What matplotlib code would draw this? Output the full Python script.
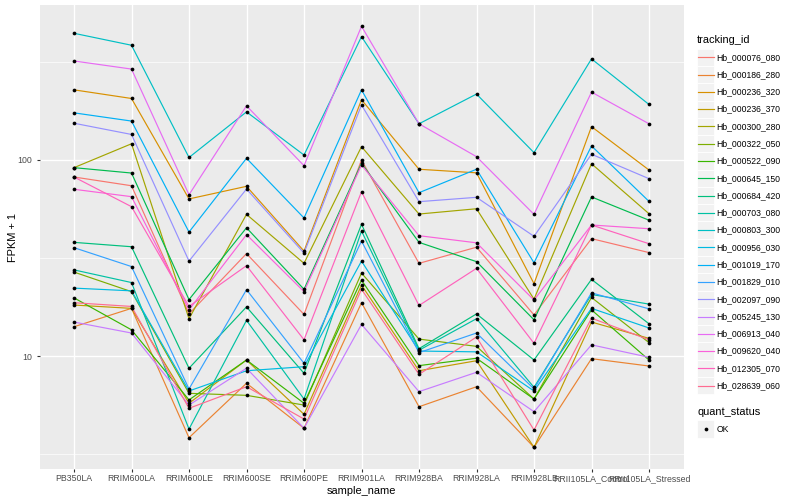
import matplotlib
matplotlib.use("Agg")
import matplotlib.pyplot as plt
import numpy as np
from matplotlib.ticker import FixedLocator, NullFormatter
from matplotlib.patches import Rectangle

plt.rcParams['font.family'] = ['Liberation Sans', 'DejaVu Sans']

samples = ["PB350LA", "RRIM600LA", "RRIM600LE", "RRIM600SE", "RRIM600PE",
           "RRIM901LA", "RRIM928BA", "RRIM928LA", "RRIM928LB",
           "RRII105LA_Control", "RRII105LA_Stressed"]

tracking_ids = ["Hb_000076_080", "Hb_000186_280", "Hb_000236_320", "Hb_000236_370",
                "Hb_000300_280", "Hb_000322_050", "Hb_000522_090", "Hb_000645_150",
                "Hb_000684_420", "Hb_000703_080", "Hb_000803_300", "Hb_000956_030",
                "Hb_001019_170", "Hb_001829_010", "Hb_002097_090", "Hb_005245_130",
                "Hb_006913_040", "Hb_009620_040", "Hb_012305_070", "Hb_028639_060"]

Hb_000076_080 = [81.9, 73.9, 16.4, 33.3, 16.3, 100, 29.7, 35.9, 16.2, 39.7, 33.7]
Hb_000186_280 = [14.1, 17.5, 3.83, 7.26, 4.28, 18.7, 5.51, 6.97, 3.42, 9.69, 8.89]
Hb_000236_320 = [228, 206, 63.3, 73.4, 34.3, 203, 89.7, 86, 23.4, 148, 88.9]
Hb_000236_370 = [18.2, 17.5, 5.74, 9.54, 5.04, 23.0, 8.41, 9.46, 3.42, 14.9, 12.3]
Hb_000300_280 = [91.4, 121, 15.5, 52.8, 29.7, 117, 53, 56.4, 19.5, 95.7, 53.2]
Hb_000322_050 = [26.8, 21.3, 6.45, 6.30, 5.62, 26.5, 12.2, 11.2, 6.03, 19.9, 11.7]
Hb_000522_090 = [19.8, 13.6, 5.97, 9.54, 5.74, 24.4, 8.93, 9.74, 6.03, 17.2, 9.54]
Hb_000645_150 = [91.4, 85.8, 19.4, 45.1, 21.9, 96.2, 38, 30.3, 15.3, 64.8, 49.3]
Hb_000684_420 = [38.0, 36.1, 8.66, 17.8, 8.16, 47.0, 10.9, 16.4, 9.54, 24.6, 14.6]
Hb_000703_080 = [27.5, 23.7, 4.24, 15.2, 6.03, 43.4, 10.7, 15.5, 6.92, 20.6, 18.4]
Hb_000803_300 = [443, 385, 103, 176, 106, 426, 153, 217, 109, 328, 192]
Hb_000956_030 = [22.2, 21.5, 6.63, 8.41, 8.82, 30.5, 10.6, 10.5, 6.63, 17.5, 13.9]
Hb_001019_170 = [174, 158, 42.9, 102, 50.6, 228, 68.1, 89.7, 29.9, 118, 61.5]
Hb_001829_010 = [35.7, 28.6, 6.79, 21.8, 9.18, 38.6, 10.4, 13.1, 6.79, 21.0, 17.4]
Hb_002097_090 = [154, 135, 30.5, 71.1, 33.5, 191, 61.3, 64.5, 40.8, 107, 80.3]
Hb_005245_130 = [14.9, 13.1, 5.62, 8.66, 4.28, 14.5, 6.58, 8.26, 5.20, 11.4, 9.85]
Hb_006913_040 = [320, 291, 66.5, 189, 93.5, 481, 153, 104, 52.8, 222, 153]
Hb_009620_040 = [70.9, 65, 17.2, 41.6, 21.3, 94.3, 41.1, 37.8, 19.3, 46.6, 44.6]
Hb_012305_070 = [81.9, 57.8, 17.9, 28.9, 12.1, 68.9, 18.1, 28, 11.6, 46.6, 37.4]
Hb_028639_060 = [18.7, 17.9, 5.41, 6.97, 4.77, 21.9, 8.06, 12.5, 4.19, 15.6, 12.1]

series = [Hb_000076_080, Hb_000186_280, Hb_000236_320, Hb_000236_370, Hb_000300_280,
          Hb_000322_050, Hb_000522_090, Hb_000645_150, Hb_000684_420, Hb_000703_080,
          Hb_000803_300, Hb_000956_030, Hb_001019_170, Hb_001829_010, Hb_002097_090,
          Hb_005245_130, Hb_006913_040, Hb_009620_040, Hb_012305_070, Hb_028639_060]

quant_status = ["OK"]

colors = ["#F8766D", "#EA8331", "#D89000", "#C09B00", "#A3A500", "#7CAE00", "#39B600",
          "#00BB4E", "#00BF7D", "#00C1A3", "#00BFC4", "#00BAE0", "#00B0F6", "#35A2FF",
          "#9590FF", "#C77CFF", "#E76BF3", "#FA62DB", "#FF62BC", "#FF6C91"]

W, H = 800, 500
fig = plt.figure(figsize=(8, 5), dpi=100)
fig.patch.set_facecolor("white")

# panel in pixel terms: x 39.5..683.5, y 5..469
ax = fig.add_axes([39.5 / W, 1 - 469 / H, 644 / W, 464 / H])
ax.set_facecolor("#EBEBEB")
x = np.arange(1, len(samples) + 1)
for vals, c in zip(series, colors):
    ax.plot(x, vals, color=c, lw=0.85, zorder=3, solid_capstyle="butt")
for vals in series:
    ax.plot(x, vals, linestyle="none", marker="o", ms=2.7, color="black",
            mec="none", zorder=4)

ax.set_yscale("log")
ax.set_ylim(10 ** 0.4235, 10 ** 2.7908)
ax.set_xlim(0.4, 11.6)
ax.set_xticks(x)
ax.set_xticklabels(samples)
ax.yaxis.set_major_locator(FixedLocator([10, 100]))
ax.set_yticklabels(["10", "100"])
ax.yaxis.set_minor_locator(FixedLocator([10 ** 0.5, 10 ** 1.5, 10 ** 2.5]))
ax.yaxis.set_minor_formatter(NullFormatter())
ax.xaxis.set_minor_locator(FixedLocator([]))
ax.grid(which="major", color="white", lw=1.0, zorder=0)
ax.grid(which="minor", axis="y", color="white", lw=0.5, zorder=0)
ax.set_axisbelow(True)
ax.tick_params(which="major", length=2.0, width=0.8, color="#333333",
               labelsize=6.3, labelcolor="#4D4D4D", pad=1.8)
ax.tick_params(axis="y", which="major", pad=3.5)
ax.tick_params(which="minor", length=0)
for s in ax.spines.values():
    s.set_visible(False)

fig.text(361.5 / W, 1 - 491 / H, "sample_name", ha="center", va="center", fontsize=7.9)
fig.text(13 / W, 1 - 237 / H, "FPKM + 1", ha="center", va="center", fontsize=7.9,
         rotation=90)

# legend drawn in pixel coordinates
lg = fig.add_axes([0, 0, 1, 1], facecolor="none")
lg.set_xlim(0, W)
lg.set_ylim(H, 0)
lg.axis("off")
lg.text(697, 40, "tracking_id", ha="left", va="center", fontsize=7.9)
key = 17.28
y0 = 57.3
for i, (name, c) in enumerate(zip(tracking_ids, colors)):
    yc = y0 + i * key
    lg.add_patch(Rectangle((697, yc - key / 2), key, key, facecolor="#F2F2F2",
                           edgecolor="white", lw=0.6))
    lg.plot([697.8, 713.5], [yc, yc], color=c, lw=0.85)
    lg.text(716.7, yc, name, ha="left", va="center", fontsize=6.2)

lg.text(697, 411.7, "quant_status", ha="left", va="center", fontsize=7.9)
for j, q in enumerate(quant_status):
    yc = 429 + j * key
    lg.add_patch(Rectangle((697, yc - key / 2), key, key, facecolor="#F2F2F2",
                           edgecolor="white", lw=0.6))
    lg.plot([697 + key / 2], [yc], marker="o", ms=2.7, color="black", mec="none")
    lg.text(716.7, yc, q, ha="left", va="center", fontsize=6.2)

fig.savefig("out.png", dpi=100)
